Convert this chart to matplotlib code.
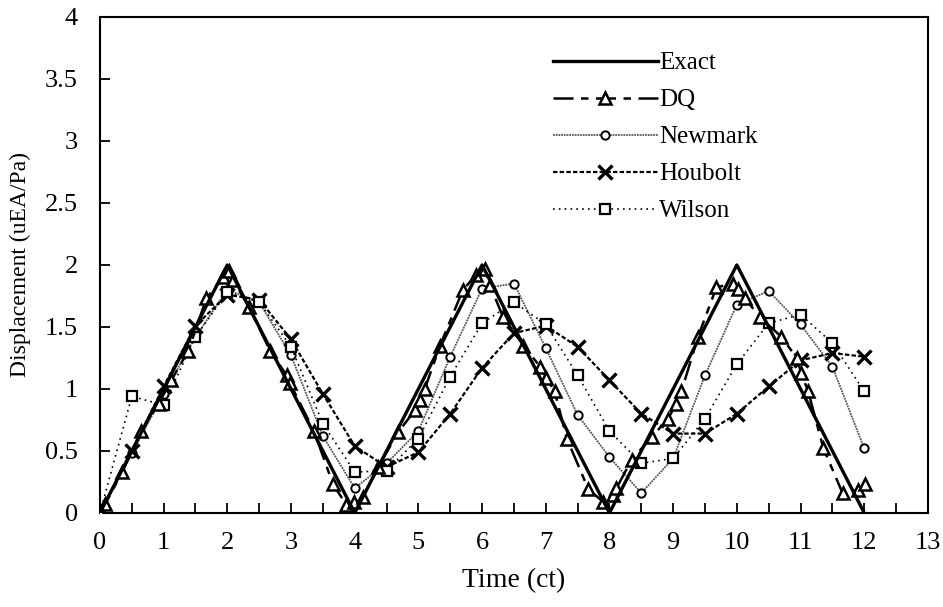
import matplotlib
matplotlib.use("Agg")
import matplotlib.pyplot as plt
import numpy as np

plt.rcParams['font.family'] = ['Liberation Serif', 'DejaVu Serif']
plt.rcParams['font.size'] = 18

# exact solution: triangle wave
t_exact = [0, 2, 4, 6, 8, 10, 12]
d_exact = [0, 2, 0, 2, 0, 2, 0]

# DQ solution (non-uniform sample times)
t_dq = [0.0, 0.08, 0.35, 0.65, 0.92, 1.12, 1.39, 1.67, 1.93, 2.02, 2.09, 2.34, 2.67,
        2.93, 2.98, 3.36, 3.66, 3.87, 3.99, 4.13, 4.37, 4.68, 4.95, 5.02, 5.10,
        5.34, 5.70, 5.91, 6.04, 6.12, 6.33, 6.65, 6.91, 7.01, 7.14, 7.33, 7.67,
        7.90, 8.06, 8.11, 8.35, 8.66, 8.92, 9.05, 9.13, 9.39, 9.68, 9.94, 10.02,
        10.13, 10.36, 10.70, 10.94, 11.01, 11.12, 11.36, 11.66, 11.90, 12.01]
d_dq = [0.0, 0.07, 0.33, 0.66, 0.88, 1.07, 1.31, 1.73, 1.90, 1.95, 1.88, 1.66, 1.31,
        1.11, 1.05, 0.66, 0.23, 0.065, 0.09, 0.13, 0.37, 0.65, 0.83, 0.91, 1.00,
        1.35, 1.80, 1.92, 1.97, 1.84, 1.58, 1.35, 1.18, 1.09, 0.98, 0.60, 0.19,
        0.09, 0.145, 0.20, 0.43, 0.61, 0.76, 0.88, 0.98, 1.42, 1.82, 1.85, 1.81,
        1.73, 1.58, 1.42, 1.25, 1.13, 0.98, 0.52, 0.16, 0.185, 0.23]

# step-by-step integrators, dt = 0.5
t_step = [0, 0.5, 1, 1.5, 2, 2.5, 3, 3.5, 4, 4.5, 5, 5.5, 6, 6.5, 7, 7.5, 8,
          8.5, 9, 9.5, 10, 10.5, 11, 11.5, 12]
d_newmark = [0, 0.48, 0.96, 1.42, 1.80, 1.70, 1.27, 0.62, 0.20, 0.40, 0.66, 1.26,
             1.81, 1.85, 1.33, 0.79, 0.45, 0.16, 0.44, 1.11, 1.68, 1.79, 1.52,
             1.18, 0.52]
d_houbolt = [0, 0.50, 1.02, 1.51, 1.76, 1.72, 1.40, 0.96, 0.54, 0.37, 0.49, 0.80,
             1.17, 1.45, 1.51, 1.34, 1.07, 0.80, 0.64, 0.64, 0.80, 1.02, 1.23,
             1.29, 1.26]
d_wilson = [0, 0.94, 0.87, 1.42, 1.78, 1.70, 1.34, 0.72, 0.33, 0.34, 0.60, 1.10,
            1.53, 1.70, 1.52, 1.11, 0.66, 0.40, 0.44, 0.76, 1.20, 1.53, 1.60,
            1.37, 0.98]

fig = plt.figure(figsize=(9.43, 6.07), dpi=100)
ax = fig.add_axes([0.106, 0.155, 0.878, 0.817])

ax.plot(t_exact, d_exact, color='black', lw=2.4, label='Exact', zorder=5)
ax.plot(t_dq, d_dq, color='black', lw=1.8, ls=(0, (8, 3, 3, 3)),
        marker='^', ms=8.5, mfc='white', mec='black', mew=1.8, label='DQ', zorder=4)
ax.plot(t_step, d_newmark, color='#555555', lw=1.3, ls=(0, (1, 0.5)),
        marker='o', ms=6, mfc='white', mec='black', mew=1.4, label='Newmark', zorder=3)
ax.plot(t_step, d_houbolt, color='black', lw=1.6, ls=(0, (2, 1)),
        marker='x', ms=10, mec='black', mew=2.4, label='Houbolt', zorder=3)
ax.plot(t_step, d_wilson, color='black', lw=1.2, ls=(0, (1, 2.5)),
        marker='s', ms=7, mfc='white', mec='black', mew=1.6, label='Wilson', zorder=3)

ax.set_xlim(0, 13)
ax.set_ylim(0, 4)
xt = np.arange(0, 13.01, 0.5)
ax.set_xticks(xt)
ax.set_xticklabels([str(int(v)) if v == int(v) else '' for v in xt])
ax.set_yticks(np.arange(0, 4.01, 0.5))
ax.set_yticklabels(['0', '0.5', '1', '1.5', '2', '2.5', '3', '3.5', '4'])
ax.tick_params(direction='in', length=7, width=1.3)
ax.tick_params(axis='x', pad=14, labelsize=19)
ax.tick_params(axis='y', pad=16, labelsize=19)
for s in ax.spines.values():
    s.set_linewidth(1.5)

ax.set_xlabel('Time (ct)', labelpad=10, fontsize=20)
ax.set_ylabel('Displacement (uEA/Pa)', labelpad=10, fontsize=17)

ax.legend(loc='upper left', bbox_to_anchor=(0.52, 0.975), frameon=False,
          fontsize=18, handlelength=4.2, handletextpad=0.05, labelspacing=0.58,
          numpoints=1)

fig.savefig('out.png', dpi=100)
